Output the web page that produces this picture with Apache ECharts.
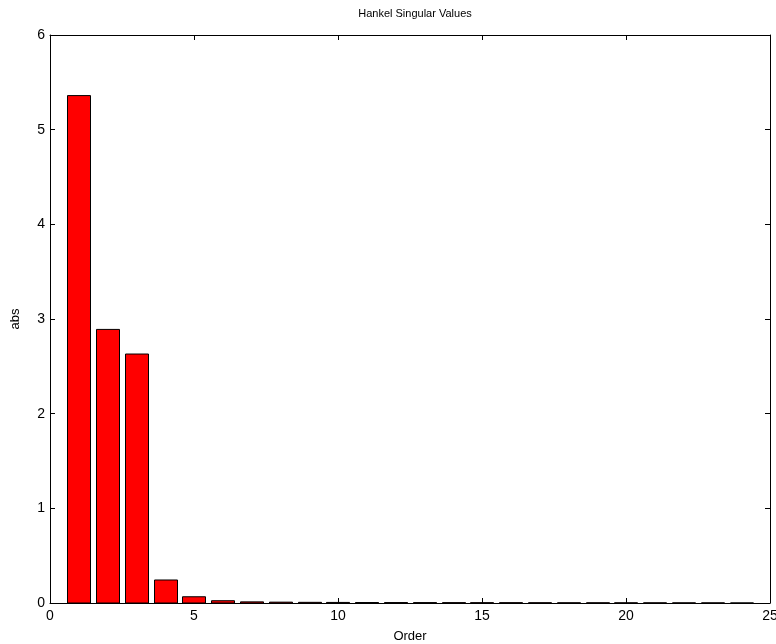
<!DOCTYPE html>
<html>
<head>
<meta charset="utf-8">
<script src="https://cdn.jsdelivr.net/npm/echarts@6/dist/echarts.min.js"></script>
<style>html,body{margin:0;padding:0;background:#fff}#c{width:776px;height:644px}</style>
</head>
<body>
<div id="c"></div>
<script>
var orders = [1,2,3,4,5,6,7,8,9,10,11,12,13,14,15,16,17,18,19,20,21,22,23,24];
var hsv = [5.36,2.89,2.63,0.243,0.066,0.024,0.012,0.009,0.007,0.006,0.005,0.0045,0.004,0.0035,0.003,0.003,0.0025,0.002,0.002,0.0018,0.0015,0.0012,0.001,0.0003];
var xTicks = [0,5,10,15,20,25];
var yTicks = [0,1,2,3,4,5,6];

var data = orders.map(function(o,i){return [o,hsv[i]];});
var chart = echarts.init(document.getElementById('c'), null, {renderer:'canvas'});
var font = 'Liberation Sans, Arial, sans-serif';
var axisCommon = {
  axisLine:{show:true,onZero:false,lineStyle:{color:'#000',width:1}},
  axisTick:{show:true,inside:true,length:5,lineStyle:{color:'#000'}},
  splitLine:{show:false}
};
chart.setOption({
  animation:false,
  backgroundColor:'#fff',
  title:{text:'Hankel Singular Values',left:410,top:3,textAlign:'center',
    textStyle:{fontFamily:font,fontSize:11,fontWeight:'normal',color:'#000'}},
  grid:{left:50,right:6,top:35,bottom:41,containLabel:false,outerBoundsMode:'none'},
  xAxis:[
    Object.assign({type:'value',min:xTicks[0],max:xTicks[xTicks.length-1],interval:5,position:'bottom',
      name:'Order',nameLocation:'middle',nameGap:27,
      nameTextStyle:{fontFamily:font,fontSize:13,color:'#000'},
      axisLabel:{fontFamily:font,fontSize:14,color:'#000',margin:6}},axisCommon),
    Object.assign({type:'value',min:xTicks[0],max:xTicks[xTicks.length-1],interval:5,position:'top',
      axisLabel:{show:false}},axisCommon)
  ],
  yAxis:[
    Object.assign({type:'value',min:yTicks[0],max:yTicks[yTicks.length-1],interval:1,position:'left',
      name:'abs',nameLocation:'middle',nameGap:28,nameRotate:90,
      nameTextStyle:{fontFamily:font,fontSize:13,color:'#000'},
      axisLabel:{fontFamily:font,fontSize:14,color:'#000',margin:5}},axisCommon),
    Object.assign({type:'value',min:yTicks[0],max:yTicks[yTicks.length-1],interval:1,position:'right',
      axisLabel:{show:false}},axisCommon)
  ],
  series:[{
    type:'custom',
    xAxisIndex:0,yAxisIndex:0,
    data:data,
    renderItem:function(params,api){
      var x=api.value(0), y=api.value(1);
      var p1=api.coord([x-0.4,y]);
      var p2=api.coord([x+0.4,0]);
      return {type:'rect',shape:{x:Math.round(p1[0])+0.5,y:p1[1],width:Math.round(p2[0]-p1[0]),height:p2[1]-p1[1]},
        style:{fill:'#ff0000',stroke:'#000',lineWidth:1}};
    }
  }]
});
</script>
</body>
</html>
